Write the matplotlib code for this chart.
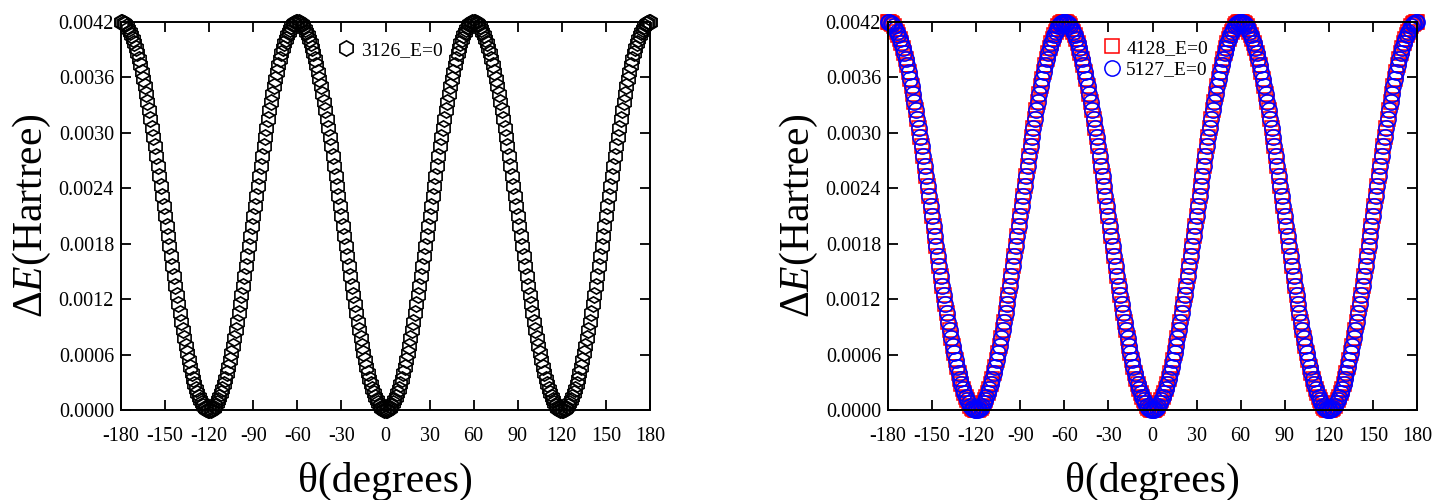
import numpy as np
import matplotlib
matplotlib.use("Agg")
import matplotlib.pyplot as plt
from matplotlib.ticker import FormatStrFormatter

# torsion angle grid (degrees), 1-degree steps
theta = np.arange(-180, 181, 1)

# Delta E values, in units of 1e-4 Hartree
dE_3126 = [
    42.00, 41.97, 41.88, 41.74, 41.54, 41.28, 40.97, 40.61, 40.18, 39.71, 39.19, 38.61, 37.99, 37.32, 36.61, 35.85, 35.05, 34.22, 33.34, 32.44,
    31.50, 30.53, 29.54, 28.53, 27.49, 26.44, 25.37, 24.29, 23.20, 22.10, 21.00, 19.90, 18.80, 17.72, 16.63, 15.56, 14.51, 13.47, 12.46, 11.47,
    10.50, 9.56, 8.66, 7.78, 6.95, 6.15, 5.39, 4.68, 4.01, 3.39, 2.81, 2.29, 1.82, 1.39, 1.03, 0.72, 0.46, 0.26, 0.12, 0.03, 0.00,
    0.03, 0.12, 0.26, 0.46, 0.72, 1.03, 1.39, 1.82, 2.29, 2.81, 3.39, 4.01, 4.68, 5.39, 6.15, 6.95, 7.78, 8.66, 9.56, 10.50,
    11.47, 12.46, 13.47, 14.51, 15.56, 16.63, 17.72, 18.80, 19.90, 21.00, 22.10, 23.20, 24.29, 25.37, 26.44, 27.49, 28.53, 29.54, 30.53, 31.50,
    32.44, 33.34, 34.22, 35.05, 35.85, 36.61, 37.32, 37.99, 38.61, 39.19, 39.71, 40.18, 40.61, 40.97, 41.28, 41.54, 41.74, 41.88, 41.97, 42.00,
    41.97, 41.88, 41.74, 41.54, 41.28, 40.97, 40.61, 40.18, 39.71, 39.19, 38.61, 37.99, 37.32, 36.61, 35.85, 35.05, 34.22, 33.34, 32.44,
    31.50, 30.53, 29.54, 28.53, 27.49, 26.44, 25.37, 24.29, 23.20, 22.10, 21.00, 19.90, 18.80, 17.72, 16.63, 15.56, 14.51, 13.47, 12.46, 11.47,
    10.50, 9.56, 8.66, 7.78, 6.95, 6.15, 5.39, 4.68, 4.01, 3.39, 2.81, 2.29, 1.82, 1.39, 1.03, 0.72, 0.46, 0.26, 0.12, 0.03, 0.00,
    0.03, 0.12, 0.26, 0.46, 0.72, 1.03, 1.39, 1.82, 2.29, 2.81, 3.39, 4.01, 4.68, 5.39, 6.15, 6.95, 7.78, 8.66, 9.56, 10.50,
    11.47, 12.46, 13.47, 14.51, 15.56, 16.63, 17.72, 18.80, 19.90, 21.00, 22.10, 23.20, 24.29, 25.37, 26.44, 27.49, 28.53, 29.54, 30.53, 31.50,
    32.44, 33.34, 34.22, 35.05, 35.85, 36.61, 37.32, 37.99, 38.61, 39.19, 39.71, 40.18, 40.61, 40.97, 41.28, 41.54, 41.74, 41.88, 41.97, 42.00,
    41.97, 41.88, 41.74, 41.54, 41.28, 40.97, 40.61, 40.18, 39.71, 39.19, 38.61, 37.99, 37.32, 36.61, 35.85, 35.05, 34.22, 33.34, 32.44,
    31.50, 30.53, 29.54, 28.53, 27.49, 26.44, 25.37, 24.29, 23.20, 22.10, 21.00, 19.90, 18.80, 17.72, 16.63, 15.56, 14.51, 13.47, 12.46, 11.47,
    10.50, 9.56, 8.66, 7.78, 6.95, 6.15, 5.39, 4.68, 4.01, 3.39, 2.81, 2.29, 1.82, 1.39, 1.03, 0.72, 0.46, 0.26, 0.12, 0.03, 0.00,
    0.03, 0.12, 0.26, 0.46, 0.72, 1.03, 1.39, 1.82, 2.29, 2.81, 3.39, 4.01, 4.68, 5.39, 6.15, 6.95, 7.78, 8.66, 9.56, 10.50,
    11.47, 12.46, 13.47, 14.51, 15.56, 16.63, 17.72, 18.80, 19.90, 21.00, 22.10, 23.20, 24.29, 25.37, 26.44, 27.49, 28.53, 29.54, 30.53, 31.50,
    32.44, 33.34, 34.22, 35.05, 35.85, 36.61, 37.32, 37.99, 38.61, 39.19, 39.71, 40.18, 40.61, 40.97, 41.28, 41.54, 41.74, 41.88, 41.97, 42.00,
]

dE_4128 = [
    42.00, 41.97, 41.88, 41.74, 41.54, 41.28, 40.97, 40.61, 40.18, 39.71, 39.19, 38.61, 37.99, 37.32, 36.61, 35.85, 35.05, 34.22, 33.34, 32.44,
    31.50, 30.53, 29.54, 28.53, 27.49, 26.44, 25.37, 24.29, 23.20, 22.10, 21.00, 19.90, 18.80, 17.72, 16.63, 15.56, 14.51, 13.47, 12.46, 11.47,
    10.50, 9.56, 8.66, 7.78, 6.95, 6.15, 5.39, 4.68, 4.01, 3.39, 2.81, 2.29, 1.82, 1.39, 1.03, 0.72, 0.46, 0.26, 0.12, 0.03, 0.00,
    0.03, 0.12, 0.26, 0.46, 0.72, 1.03, 1.39, 1.82, 2.29, 2.81, 3.39, 4.01, 4.68, 5.39, 6.15, 6.95, 7.78, 8.66, 9.56, 10.50,
    11.47, 12.46, 13.47, 14.51, 15.56, 16.63, 17.72, 18.80, 19.90, 21.00, 22.10, 23.20, 24.29, 25.37, 26.44, 27.49, 28.53, 29.54, 30.53, 31.50,
    32.44, 33.34, 34.22, 35.05, 35.85, 36.61, 37.32, 37.99, 38.61, 39.19, 39.71, 40.18, 40.61, 40.97, 41.28, 41.54, 41.74, 41.88, 41.97, 42.00,
    41.97, 41.88, 41.74, 41.54, 41.28, 40.97, 40.61, 40.18, 39.71, 39.19, 38.61, 37.99, 37.32, 36.61, 35.85, 35.05, 34.22, 33.34, 32.44,
    31.50, 30.53, 29.54, 28.53, 27.49, 26.44, 25.37, 24.29, 23.20, 22.10, 21.00, 19.90, 18.80, 17.72, 16.63, 15.56, 14.51, 13.47, 12.46, 11.47,
    10.50, 9.56, 8.66, 7.78, 6.95, 6.15, 5.39, 4.68, 4.01, 3.39, 2.81, 2.29, 1.82, 1.39, 1.03, 0.72, 0.46, 0.26, 0.12, 0.03, 0.00,
    0.03, 0.12, 0.26, 0.46, 0.72, 1.03, 1.39, 1.82, 2.29, 2.81, 3.39, 4.01, 4.68, 5.39, 6.15, 6.95, 7.78, 8.66, 9.56, 10.50,
    11.47, 12.46, 13.47, 14.51, 15.56, 16.63, 17.72, 18.80, 19.90, 21.00, 22.10, 23.20, 24.29, 25.37, 26.44, 27.49, 28.53, 29.54, 30.53, 31.50,
    32.44, 33.34, 34.22, 35.05, 35.85, 36.61, 37.32, 37.99, 38.61, 39.19, 39.71, 40.18, 40.61, 40.97, 41.28, 41.54, 41.74, 41.88, 41.97, 42.00,
    41.97, 41.88, 41.74, 41.54, 41.28, 40.97, 40.61, 40.18, 39.71, 39.19, 38.61, 37.99, 37.32, 36.61, 35.85, 35.05, 34.22, 33.34, 32.44,
    31.50, 30.53, 29.54, 28.53, 27.49, 26.44, 25.37, 24.29, 23.20, 22.10, 21.00, 19.90, 18.80, 17.72, 16.63, 15.56, 14.51, 13.47, 12.46, 11.47,
    10.50, 9.56, 8.66, 7.78, 6.95, 6.15, 5.39, 4.68, 4.01, 3.39, 2.81, 2.29, 1.82, 1.39, 1.03, 0.72, 0.46, 0.26, 0.12, 0.03, 0.00,
    0.03, 0.12, 0.26, 0.46, 0.72, 1.03, 1.39, 1.82, 2.29, 2.81, 3.39, 4.01, 4.68, 5.39, 6.15, 6.95, 7.78, 8.66, 9.56, 10.50,
    11.47, 12.46, 13.47, 14.51, 15.56, 16.63, 17.72, 18.80, 19.90, 21.00, 22.10, 23.20, 24.29, 25.37, 26.44, 27.49, 28.53, 29.54, 30.53, 31.50,
    32.44, 33.34, 34.22, 35.05, 35.85, 36.61, 37.32, 37.99, 38.61, 39.19, 39.71, 40.18, 40.61, 40.97, 41.28, 41.54, 41.74, 41.88, 41.97, 42.00,
]

dE_5127 = [
    42.00, 41.97, 41.88, 41.74, 41.54, 41.28, 40.97, 40.61, 40.18, 39.71, 39.19, 38.61, 37.99, 37.32, 36.61, 35.85, 35.05, 34.22, 33.34, 32.44,
    31.50, 30.53, 29.54, 28.53, 27.49, 26.44, 25.37, 24.29, 23.20, 22.10, 21.00, 19.90, 18.80, 17.72, 16.63, 15.56, 14.51, 13.47, 12.46, 11.47,
    10.50, 9.56, 8.66, 7.78, 6.95, 6.15, 5.39, 4.68, 4.01, 3.39, 2.81, 2.29, 1.82, 1.39, 1.03, 0.72, 0.46, 0.26, 0.12, 0.03, 0.00,
    0.03, 0.12, 0.26, 0.46, 0.72, 1.03, 1.39, 1.82, 2.29, 2.81, 3.39, 4.01, 4.68, 5.39, 6.15, 6.95, 7.78, 8.66, 9.56, 10.50,
    11.47, 12.46, 13.47, 14.51, 15.56, 16.63, 17.72, 18.80, 19.90, 21.00, 22.10, 23.20, 24.29, 25.37, 26.44, 27.49, 28.53, 29.54, 30.53, 31.50,
    32.44, 33.34, 34.22, 35.05, 35.85, 36.61, 37.32, 37.99, 38.61, 39.19, 39.71, 40.18, 40.61, 40.97, 41.28, 41.54, 41.74, 41.88, 41.97, 42.00,
    41.97, 41.88, 41.74, 41.54, 41.28, 40.97, 40.61, 40.18, 39.71, 39.19, 38.61, 37.99, 37.32, 36.61, 35.85, 35.05, 34.22, 33.34, 32.44,
    31.50, 30.53, 29.54, 28.53, 27.49, 26.44, 25.37, 24.29, 23.20, 22.10, 21.00, 19.90, 18.80, 17.72, 16.63, 15.56, 14.51, 13.47, 12.46, 11.47,
    10.50, 9.56, 8.66, 7.78, 6.95, 6.15, 5.39, 4.68, 4.01, 3.39, 2.81, 2.29, 1.82, 1.39, 1.03, 0.72, 0.46, 0.26, 0.12, 0.03, 0.00,
    0.03, 0.12, 0.26, 0.46, 0.72, 1.03, 1.39, 1.82, 2.29, 2.81, 3.39, 4.01, 4.68, 5.39, 6.15, 6.95, 7.78, 8.66, 9.56, 10.50,
    11.47, 12.46, 13.47, 14.51, 15.56, 16.63, 17.72, 18.80, 19.90, 21.00, 22.10, 23.20, 24.29, 25.37, 26.44, 27.49, 28.53, 29.54, 30.53, 31.50,
    32.44, 33.34, 34.22, 35.05, 35.85, 36.61, 37.32, 37.99, 38.61, 39.19, 39.71, 40.18, 40.61, 40.97, 41.28, 41.54, 41.74, 41.88, 41.97, 42.00,
    41.97, 41.88, 41.74, 41.54, 41.28, 40.97, 40.61, 40.18, 39.71, 39.19, 38.61, 37.99, 37.32, 36.61, 35.85, 35.05, 34.22, 33.34, 32.44,
    31.50, 30.53, 29.54, 28.53, 27.49, 26.44, 25.37, 24.29, 23.20, 22.10, 21.00, 19.90, 18.80, 17.72, 16.63, 15.56, 14.51, 13.47, 12.46, 11.47,
    10.50, 9.56, 8.66, 7.78, 6.95, 6.15, 5.39, 4.68, 4.01, 3.39, 2.81, 2.29, 1.82, 1.39, 1.03, 0.72, 0.46, 0.26, 0.12, 0.03, 0.00,
    0.03, 0.12, 0.26, 0.46, 0.72, 1.03, 1.39, 1.82, 2.29, 2.81, 3.39, 4.01, 4.68, 5.39, 6.15, 6.95, 7.78, 8.66, 9.56, 10.50,
    11.47, 12.46, 13.47, 14.51, 15.56, 16.63, 17.72, 18.80, 19.90, 21.00, 22.10, 23.20, 24.29, 25.37, 26.44, 27.49, 28.53, 29.54, 30.53, 31.50,
    32.44, 33.34, 34.22, 35.05, 35.85, 36.61, 37.32, 37.99, 38.61, 39.19, 39.71, 40.18, 40.61, 40.97, 41.28, 41.54, 41.74, 41.88, 41.97, 42.00,
]

UNIT = 1e-4
xticks = [-180, -150, -120, -90, -60, -30, 0, 30, 60, 90, 120, 150, 180]
yticks = [0.0, 0.0006, 0.0012, 0.0018, 0.0024, 0.0030, 0.0036, 0.0042]

plt.rcParams['font.family'] = ['Liberation Serif', 'DejaVu Serif']
plt.rcParams['mathtext.fontset'] = 'custom'
plt.rcParams['mathtext.it'] = 'Liberation Serif:italic'
plt.rcParams['mathtext.rm'] = 'Liberation Serif'
plt.rcParams['axes.unicode_minus'] = False

fig = plt.figure(figsize=(14.35, 5.0), dpi=100)
ax1 = fig.add_axes([121 / 1435, 1 - 410 / 500, 529 / 1435, 388 / 500])
ax2 = fig.add_axes([888 / 1435, 1 - 410 / 500, 529 / 1435, 388 / 500])


def style(ax):
    ax.set_xlim(-180, 180)
    ax.set_ylim(0, 0.0042)
    ax.set_xticks(xticks)
    ax.set_yticks(yticks)
    ax.yaxis.set_major_formatter(FormatStrFormatter('%.4f'))
    ax.tick_params(direction='in', length=7, width=1.3, top=True, right=True,
                   labelsize=14.5)
    ax.tick_params(axis='x', pad=12)
    ax.tick_params(axis='y', pad=5)
    for s in ax.spines.values():
        s.set_linewidth(1.4)
    ax.set_xlabel('θ(degrees)', fontsize=30, labelpad=12)
    ax.set_ylabel(r'$\Delta\mathit{E}$(Hartree)', fontsize=30, labelpad=4)


ax1.plot(theta, np.array(dE_3126) * UNIT, linestyle='none', marker='h', ms=11,
         mfc='none', mec='black', mew=1.2, clip_on=False, label='3126_E=0')
style(ax1)
ax1.legend(loc='upper left', bbox_to_anchor=(0.378, 0.985), frameon=False,
           fontsize=14, handletextpad=0.15, handlelength=1.2, borderaxespad=0.3)

ax2.plot(theta, np.array(dE_4128) * UNIT, linestyle='none', marker='s', ms=10,
         mfc='none', mec='red', mew=1.1, clip_on=False, label='4128_E=0')
ax2.plot(theta, np.array(dE_5127) * UNIT, linestyle='none', marker='o', ms=11,
         mfc='none', mec='blue', mew=1.1, clip_on=False, label='5127_E=0')
style(ax2)
ax2.legend(loc='upper left', bbox_to_anchor=(0.375, 0.99), frameon=False,
           fontsize=14, handletextpad=0.15, handlelength=1.2, borderaxespad=0.3,
           labelspacing=0.2)

fig.savefig('out.png', dpi=100)
